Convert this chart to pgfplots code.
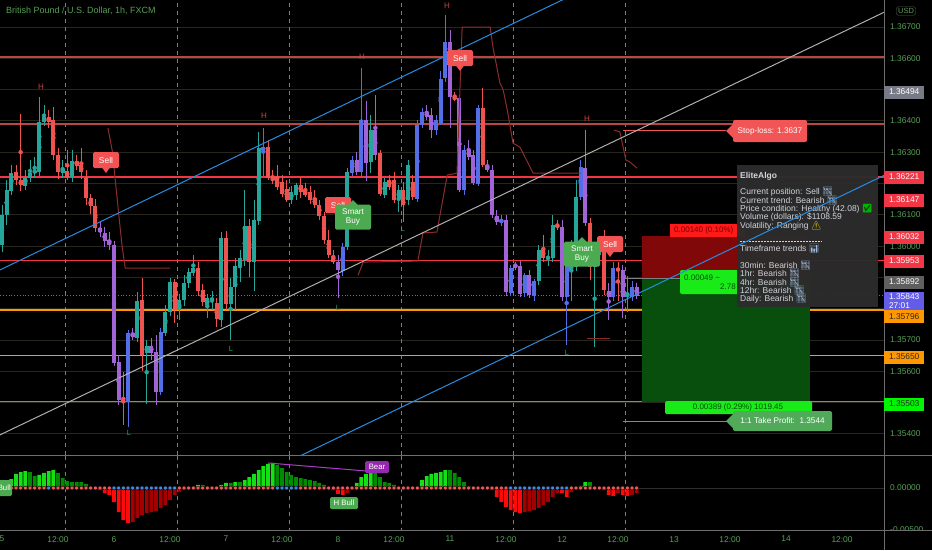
\documentclass[border=0pt]{standalone}
\usepackage{pgfplots}
\pgfplotsset{compat=1.18}
\usepackage{pgfplotstable}
\usepackage{fontspec}
\setmainfont{Liberation Sans}
\newfontfamily\emoji{Noto Emoji}
\newcommand\fsz[1]{\fontsize{#1}{#1}\selectfont}
\definecolor{tg}{RGB}{86,160,86}
\definecolor{cteal}{RGB}{38,166,154}
\definecolor{cred}{RGB}{239,83,80}
\definecolor{cblue}{RGB}{84,110,232}
\definecolor{cpurp}{RGB}{160,100,215}
\definecolor{gridc}{RGB}{40,38,28}
\definecolor{lvdark}{RGB}{185,70,70}
\definecolor{lvred}{RGB}{242,54,69}
\definecolor{lvor}{RGB}{255,152,0}
\definecolor{lvgr}{RGB}{76,175,80}
\definecolor{chblue}{RGB}{41,140,225}
\definecolor{chgray}{RGB}{175,175,175}
\definecolor{trail}{RGB}{140,45,45}
\definecolor{hgb}{RGB}{20,225,20}
\definecolor{hgd}{RGB}{0,140,0}
\definecolor{hrb}{RGB}{255,10,10}
\definecolor{hrd}{RGB}{165,0,0}
\definecolor{dotr}{RGB}{240,90,90}
\definecolor{dotb}{RGB}{60,140,230}
\definecolor{sellc}{RGB}{242,82,82}
\definecolor{buyc}{RGB}{76,170,80}
\definecolor{hlab}{RGB}{200,70,70}
\definecolor{llab}{RGB}{40,160,100}
\definecolor{panel}{RGB}{44,44,44}
\definecolor{ptxt}{RGB}{209,212,220}
\definecolor{pgray}{RGB}{120,123,134}
\definecolor{pgray2}{RGB}{95,95,95}
\definecolor{pviol}{RGB}{98,92,232}
\definecolor{pgreen}{RGB}{0,245,0}
\definecolor{tpc}{RGB}{80,170,90}
\definecolor{slc}{RGB}{242,85,85}
\definecolor{zred}{RGB}{128,8,8}
\definecolor{zgreen}{RGB}{8,78,12}
\definecolor{lred}{RGB}{255,25,25}
\definecolor{lgreen}{RGB}{25,235,25}
\definecolor{sepc}{RGB}{110,110,110}
\definecolor{sessc}{RGB}{125,125,125}
\definecolor{bearc}{RGB}{150,40,175}
\definecolor{bearl}{RGB}{170,60,200}
\definecolor{zeroc}{RGB}{45,45,45}
\definecolor{curc}{RGB}{110,110,160}
\definecolor{emob}{RGB}{160,190,225}

\pgfplotstableread{
h o hi lo cl k
0 1.36003 1.36131 1.35981 1.36099 0
1 1.36099 1.36211 1.36067 1.36179 0
2 1.36179 1.36259 1.36163 1.36236 0
3 1.36236 1.36259 1.36195 1.36211 1
4 1.36211 1.36425 1.36179 1.36195 1
5 1.36195 1.36243 1.36179 1.36220 0
6 1.36220 1.36275 1.36205 1.36236 0
7 1.36236 1.36284 1.36217 1.36243 0
8 1.36236 1.36476 1.36224 1.36396 0
9 1.36396 1.36451 1.36383 1.36412 0
10 1.36412 1.36435 1.36377 1.36396 1
11 1.36403 1.36444 1.36275 1.36291 1
12 1.36291 1.36313 1.36217 1.36236 1
13 1.36236 1.36275 1.36217 1.36246 0
14 1.36243 1.36307 1.36211 1.36220 1
15 1.36220 1.36307 1.36205 1.36272 0
16 1.36272 1.36291 1.36243 1.36259 1
17 1.36259 1.36313 1.36217 1.36236 1
18 1.36217 1.36243 1.36131 1.36153 1
19 1.36153 1.36169 1.36105 1.36128 1
20 1.36128 1.36153 1.36045 1.36058 1
21 1.36058 1.36077 1.36032 1.36045 3
22 1.36045 1.36064 1.36000 1.36019 3
23 1.36019 1.36045 1.35987 1.36003 3
24 1.36003 1.36019 1.35620 1.35629 3
25 1.35629 1.35652 1.35492 1.35508 3
26 1.35508 1.35597 1.35428 1.35502 1
27 1.35502 1.35732 1.35422 1.35725 2
28 1.35722 1.35738 1.35700 1.35709 3
29 1.35709 1.35853 1.35693 1.35827 0
30 1.35827 1.35901 1.35604 1.35652 1
31 1.35661 1.35700 1.35495 1.35681 0
32 1.35681 1.35706 1.35636 1.35661 3
33 1.35661 1.35716 1.35492 1.35534 3
34 1.35534 1.35738 1.35524 1.35725 2
35 1.35725 1.35812 1.35712 1.35789 0
36 1.35789 1.35898 1.35776 1.35885 0
37 1.35885 1.35898 1.35757 1.35796 1
38 1.35796 1.35847 1.35764 1.35827 0
39 1.35827 1.35907 1.35808 1.35882 0
40 1.35882 1.35930 1.35866 1.35917 0
41 1.35917 1.35971 1.35904 1.35930 0
42 1.35930 1.35949 1.35843 1.35859 1
43 1.35859 1.35879 1.35808 1.35821 1
44 1.35812 1.35847 1.35770 1.35834 0
45 1.35827 1.35859 1.35796 1.35837 0
46 1.35821 1.35834 1.35744 1.35770 1
47 1.35764 1.36045 1.35744 1.36026 0
48 1.36026 1.36051 1.35796 1.35815 1
49 1.35815 1.35898 1.35700 1.35869 0
50 1.35869 1.35962 1.35796 1.35936 0
51 1.35936 1.35987 1.35885 1.35962 0
52 1.35955 1.36179 1.35936 1.36064 0
53 1.36064 1.36089 1.35904 1.35949 1
54 1.35949 1.36147 1.35859 1.36083 0
55 1.36083 1.36364 1.36067 1.36316 0
56 1.36307 1.36380 1.36227 1.36316 2
57 1.36316 1.36339 1.36211 1.36217 1
58 1.36217 1.36243 1.36198 1.36211 1
59 1.36217 1.36259 1.36179 1.36189 1
60 1.36205 1.36227 1.36157 1.36166 1
61 1.36185 1.36211 1.36141 1.36150 1
62 1.36147 1.36192 1.36134 1.36173 0
63 1.36163 1.36201 1.36147 1.36195 0
64 1.36195 1.36217 1.36153 1.36173 1
65 1.36179 1.36201 1.36157 1.36163 1
66 1.36173 1.36192 1.36137 1.36147 1
67 1.36153 1.36179 1.36121 1.36131 1
68 1.36131 1.36147 1.36083 1.36096 1
69 1.36096 1.36109 1.36006 1.36019 1
70 1.36019 1.36051 1.35962 1.35971 1
71 1.35971 1.35987 1.35943 1.35952 1
72 1.35949 1.35971 1.35834 1.35923 3
73 1.35923 1.36010 1.35907 1.35997 2
74 1.35997 1.36249 1.35987 1.36236 0
75 1.36233 1.36291 1.36224 1.36275 2
76 1.36275 1.36300 1.36227 1.36236 3
77 1.36236 1.36572 1.36227 1.36403 2
78 1.36403 1.36466 1.36211 1.36268 3
79 1.36268 1.36419 1.36233 1.36371 0
80 1.36371 1.36482 1.36275 1.36291 3
81 1.36297 1.36307 1.36160 1.36169 1
82 1.36163 1.36217 1.36153 1.36205 0
83 1.36211 1.36227 1.36179 1.36189 1
84 1.36211 1.36236 1.36137 1.36147 1
85 1.36153 1.36195 1.36109 1.36179 0
86 1.36179 1.36205 1.36077 1.36131 1
87 1.36147 1.36275 1.36131 1.36259 0
88 1.36205 1.36227 1.36147 1.36157 1
89 1.36153 1.36403 1.36141 1.36387 2
90 1.36387 1.36441 1.36377 1.36428 2
91 1.36428 1.36451 1.36403 1.36412 3
92 1.36419 1.36441 1.36345 1.36371 3
93 1.36371 1.36419 1.36355 1.36403 2
94 1.36396 1.36562 1.36387 1.36537 2
95 1.36537 1.36738 1.36524 1.36652 2
96 1.36652 1.36690 1.36377 1.36476 3
97 1.36476 1.36492 1.36466 1.36473 1
98 1.36473 1.36482 1.36173 1.36179 3
99 1.36179 1.36323 1.36163 1.36307 2
100 1.36307 1.36339 1.36275 1.36284 3
101 1.36291 1.36307 1.36195 1.36201 3
102 1.36201 1.36451 1.36192 1.36441 2
103 1.36441 1.36505 1.36252 1.36259 1
104 1.36259 1.36275 1.36236 1.36243 3
105 1.36243 1.36259 1.36089 1.36099 3
106 1.36096 1.36115 1.36067 1.36077 3
107 1.36077 1.36099 1.36064 1.36083 2
108 1.36083 1.36099 1.35843 1.35853 3
109 1.35853 1.35939 1.35840 1.35930 2
110 1.35939 1.35949 1.35923 1.35936 3
111 1.35939 1.35955 1.35840 1.35850 3
112 1.35850 1.35914 1.35840 1.35907 2
113 1.35907 1.35923 1.35834 1.35843 3
114 1.35843 1.35898 1.35827 1.35891 2
115 1.35891 1.36003 1.35875 1.35990 0
116 1.35990 1.36035 1.35949 1.35962 1
117 1.35962 1.35987 1.35939 1.35965 0
118 1.35962 1.36099 1.35949 1.36067 0
119 1.36070 1.36083 1.36051 1.36061 1
120 1.36061 1.36083 1.35827 1.35837 3
121 1.35837 1.35955 1.35684 1.35939 2
122 1.35925 1.36019 1.35827 1.35939 0
123 1.35933 1.36211 1.35923 1.36157 0
124 1.36157 1.36275 1.36147 1.36252 2
125 1.36252 1.36371 1.36064 1.36074 3
126 1.36074 1.36089 1.35891 1.35933 1
127 1.35933 1.35987 1.35680 1.35971 0
128 1.35971 1.36032 1.35949 1.36019 0
129 1.36029 1.36051 1.35843 1.35859 1
130 1.35859 1.35885 1.35764 1.35837 3
131 1.35837 1.35949 1.35827 1.35930 2
132 1.35930 1.35949 1.35827 1.35923 1
133 1.35923 1.35939 1.35770 1.35837 3
134 1.35837 1.35904 1.35789 1.35850 0
135 1.35837 1.35891 1.35827 1.35869 2
136 1.35869 1.35885 1.35834 1.35843 3
}\candles

\pgfplotstableread{
h v c d
0 0.00024 0 0
1 0.00060 0 0
2 0.00107 0 0
3 0.00167 0 0
4 0.00190 0 0
5 0.00202 0 0
6 0.00190 1 0
7 0.00143 1 0
8 0.00155 0 0
9 0.00179 0 0
10 0.00202 0 1
11 0.00214 0 0
12 0.00179 1 0
13 0.00119 1 0
14 0.00083 1 0
15 0.00071 1 0
16 0.00071 1 0
17 0.00071 1 0
18 0.00048 1 0
19 0.00012 1 0
20 0.00006 1 0
21 -0.00024 2 0
22 -0.00060 2 0
23 -0.00083 2 0
24 -0.00167 2 1
25 -0.00286 2 1
26 -0.00381 2 1
27 -0.00417 2 1
28 -0.00405 3 1
29 -0.00357 3 1
30 -0.00321 3 1
31 -0.00298 3 1
32 -0.00286 3 1
33 -0.00274 3 1
34 -0.00238 3 1
35 -0.00202 3 1
36 -0.00143 3 1
37 -0.00083 3 1
38 -0.00048 3 0
39 -0.00024 3 0
40 0.00006 0 0
41 0.00012 0 0
42 0.00036 0 0
43 0.00036 1 0
44 0.00012 1 0
45 0.00006 1 0
46 0.00012 0 0
47 0.00036 0 0
48 0.00060 0 0
49 0.00060 1 0
50 0.00071 0 0
51 0.00071 1 0
52 0.00095 0 0
53 0.00131 0 0
54 0.00167 0 0
55 0.00214 0 0
56 0.00262 0 0
57 0.00286 0 0
58 0.00298 0 0
59 0.00274 1 1
60 0.00238 1 1
61 0.00190 1 1
62 0.00155 1 1
63 0.00131 1 1
64 0.00119 1 0
65 0.00107 1 0
66 0.00095 1 0
67 0.00083 1 0
68 0.00060 1 0
69 0.00036 1 0
70 0.00012 1 0
71 -0.00024 2 0
72 -0.00071 2 0
73 -0.00083 2 0
74 -0.00060 3 0
75 -0.00024 3 0
76 0.00060 0 0
77 0.00131 0 0
78 0.00167 0 0
79 0.00190 0 0
80 0.00179 1 0
81 0.00131 1 0
82 0.00071 1 0
83 0.00060 1 0
84 0.00036 1 0
85 0.00012 1 0
86 0.00006 1 0
87 0.00006 1 0
88 0.00006 1 0
89 0.00012 0 0
90 0.00095 0 0
91 0.00143 0 0
92 0.00167 0 0
93 0.00179 0 0
94 0.00190 0 0
95 0.00214 0 0
96 0.00214 1 0
97 0.00179 1 0
98 0.00131 1 0
99 0.00071 1 0
100 0.00024 1 0
101 0.00012 1 0
102 0.00006 1 0
103 0.00006 1 0
104 -0.00006 2 0
105 -0.00024 2 0
106 -0.00107 2 0
107 -0.00167 2 0
108 -0.00226 2 0
109 -0.00262 2 1
110 -0.00286 2 1
111 -0.00298 2 1
112 -0.00286 3 1
113 -0.00274 3 1
114 -0.00262 3 1
115 -0.00238 3 1
116 -0.00202 3 1
117 -0.00167 3 1
118 -0.00107 3 1
119 -0.00060 3 1
120 -0.00060 2 1
121 -0.00107 2 1
122 -0.00048 3 0
123 -0.00012 3 0
124 0.00024 0 0
125 0.00071 0 0
126 0.00071 1 0
127 0.00006 1 0
128 0.00006 1 0
129 -0.00024 2 0
130 -0.00083 2 0
131 -0.00095 2 0
132 -0.00060 3 0
133 -0.00083 2 0
134 -0.00095 2 0
135 -0.00083 3 0
136 -0.00060 3 0
}\osc

\pgfplotsset{
  wick/.style={only marks, mark=none, forget plot, color=#1,
    error bars/.cd, y dir=both, y explicit, error mark=none,
    error bar style={line width=1pt, color=#1}},
  body/.style={only marks, mark=none, forget plot, color=#1,
    error bars/.cd, y dir=both, y explicit, error mark=none,
    error bar style={line width=3.8pt, color=#1}},
  sess/.style={sessc, line width=1pt, dash pattern=on 4pt off 4pt, forget plot},
  hbar/.style={ybar, bar width=3.7pt, bar shift=0pt, draw=none, fill=#1, forget plot},
}
\newcommand\wicks[2]{\addplot[restrict expr to domain={\thisrow{k}}{#2:#2}, wick=#1] table[x=h, y expr={(\thisrow{hi}+\thisrow{lo})/2}, y error expr={(\thisrow{hi}-\thisrow{lo})/2}] {\candles};}
\newcommand\bodies[2]{\addplot[restrict expr to domain={\thisrow{k}}{#2:#2}, body=#1] table[x=h, y expr={(\thisrow{o}+\thisrow{cl})/2}, y error expr={max(abs(\thisrow{o}-\thisrow{cl})/2,0.000016)}] {\candles};}
\newcommand\sell[2]{%
  \fill[sellc, rounded corners=1.5pt] (#1-13,#2-8) rectangle (#1+13,#2+8);
  \fill[sellc] (#1-4,#2+7.5) -- (#1,#2+13) -- (#1+4,#2+7.5) -- cycle;
  \node[white, font=\fsz{8.4}, inner sep=0pt] at (#1,#2) {Sell};}
\newcommand\sbuy[2]{%
  \fill[buyc, rounded corners=1.5pt] (#1-18,#2-12.5) rectangle (#1+18,#2+12.5);
  \fill[buyc] (#1-5,#2-12) -- (#1,#2-17) -- (#1+5,#2-12) -- cycle;
  \node[white, font=\fontsize{8.2}{9}\selectfont, align=center, inner sep=0pt] at (#1,#2) {Smart\\Buy};}
\newcommand\Hlab[2]{\node[hlab, font=\fsz{8}, inner sep=0pt] at (#1,#2) {H};}
\newcommand\Llab[2]{\node[llab, font=\fsz{7.5}, inner sep=0pt] at (#1,#2) {L};}
\newcommand\pbox[4]{\node[fill=#3, text=#4, font=\fsz{8.4}, anchor=west, inner sep=0pt, minimum width=40pt, minimum height=13pt] at (884,#1) {#2};}
\newcommand\ptx[2]{\node[anchor=west, text=ptxt, font=\fsz{8.5}, inner sep=0pt] at (740,#1) {#2};}
\newcommand\emo[2]{{\emoji\color{#1}#2}}

\begin{document}
\begin{tikzpicture}
\fill[black] (0pt,-550pt) rectangle (932pt,0pt);
\useasboundingbox (0pt,-550pt) rectangle (932pt,0pt);

% ---------------- main price pane
\begin{axis}[
  at={(0pt,-455pt)}, anchor=south west, scale only axis,
  width=884pt, height=455pt,
  xmin=-0.4286, xmax=189, ymin=1.353326, ymax=1.367863,
  axis line style={draw=none}, major tick length=0pt,
  xtick=\empty, scaled y ticks=false,
  ytick={1.354,1.355,1.356,1.357,1.358,1.359,1.360,1.361,1.362,1.363,1.364,1.365,1.366,1.367},
  yticklabels={1.35400,{},1.35600,1.35700,{},{},1.36000,1.36100,{},1.36300,1.36400,{},1.36600,1.36700},
  yticklabel pos=right,
  yticklabel style={font=\fsz{8.4}, text=tg, anchor=west, inner sep=0pt, xshift=6pt},
  ymajorgrids, major grid style={gridc, line width=1pt},
]
\addplot[sess] coordinates {(13.7,1.35) (13.7,1.37)};
\addplot[sess] coordinates {(37.7,1.35) (37.7,1.37)};
\addplot[sess] coordinates {(61.7,1.35) (61.7,1.37)};
\addplot[sess] coordinates {(85.7,1.35) (85.7,1.37)};
\addplot[sess] coordinates {(109.7,1.35) (109.7,1.37)};
\addplot[sess] coordinates {(133.7,1.35) (133.7,1.37)};
% levels
\addplot[lvdark, line width=1.8pt, forget plot] coordinates {(-1,1.36604) (190,1.36604)};
\addplot[lvdark, line width=1.8pt, forget plot] coordinates {(-1,1.36390) (190,1.36390)};
\addplot[lvred, line width=1.2pt, forget plot] coordinates {(-1,1.36221) (190,1.36221)};
\addplot[lvred, line width=1.2pt, forget plot] coordinates {(-1,1.35953) (190,1.35953)};
\addplot[lvor, line width=1.6pt, forget plot] coordinates {(-1,1.35796) (190,1.35796)};
\addplot[lvor, line width=1.6pt, forget plot] coordinates {(-1,1.35650) (190,1.35650)};
\addplot[lvgr, line width=1.2pt, forget plot] coordinates {(-1,1.35503) (190,1.35503)};
\addplot[curc, dotted, line width=0.8pt, forget plot] coordinates {(-1,1.35843) (190,1.35843)};
% position zones
\addplot[fill=zred, draw=none, forget plot] coordinates {(137.1,1.35892) (173.1,1.35892) (173.1,1.36032) (137.1,1.36032)} -- cycle;
\addplot[fill=zgreen, draw=none, forget plot] coordinates {(137.1,1.35503) (173.1,1.35503) (173.1,1.35892) (137.1,1.35892)} -- cycle;
\addplot[lvgr, line width=1pt, forget plot] coordinates {(133.1,1.35440) (157,1.35440)};
\addplot[slc, line width=1pt, forget plot] coordinates {(133.1,1.36370) (155.1,1.36370)};
\addplot[gray, line width=0.8pt, forget plot] coordinates {(133.1,1.35897) (145.3,1.35897)};
% candles
\wicks{cteal}{0}\wicks{cred}{1}\wicks{cblue}{2}\wicks{cpurp}{3}
\bodies{cteal}{0}\bodies{cred}{1}\bodies{cblue}{2}\bodies{cpurp}{3}
% trailing stop
\addplot[trail, line width=1pt, forget plot] coordinates {(22.7,1.36377) (23.6,1.36307) (24.6,1.36163) (25.7,1.36003) (26.4,1.35930) (36.0,1.35930)};
\addplot[trail, line width=1pt, forget plot] coordinates {(76.3,1.35907) (77.4,1.35949) (89.1,1.35952) (90.2,1.36042) (93.2,1.36045) (95.4,1.36227) (97.5,1.36233) (98.6,1.36700) (104.6,1.36700) (105.2,1.36636) (106.7,1.36521) (107.4,1.36499) (108.4,1.36425) (109.5,1.36329) (111.0,1.36316) (113.8,1.36233) (124.0,1.36233)};
\addplot[trail, line width=1pt, forget plot] coordinates {(131.1,1.36371) (132.4,1.36365) (133.7,1.36275) (134.6,1.36268) (136.1,1.36249)};
\addplot[trail, line width=1pt, forget plot] coordinates {(125.4,1.35706) (130.3,1.35706)};
% channel lines
\addplot[chgray, line width=1pt, forget plot] coordinates {(-0.43,1.35397) (189,1.36747)};
\addplot[chblue, line width=1pt, forget plot] coordinates {(-0.43,1.35924) (128.1,1.36844)};
\end{axis}

% ---------------- oscillator pane
\begin{axis}[
  at={(0pt,-530pt)}, anchor=south west, scale only axis,
  width=884pt, height=75pt,
  xmin=-0.4286, xmax=189, ymin=-0.005, ymax=0.003929,
  axis line style={draw=none}, major tick length=0pt,
  scaled y ticks=false, scaled x ticks=false,
  xtick={0,12,24,36,48,60,72,84,96,108,120,132,144,156,168,180},
  xticklabels={5,12:00,6,12:00,7,12:00,8,12:00,11,12:00,12,12:00,13,12:00,14,12:00},
  xticklabel style={font=\fsz{8.4}, text=tg, inner sep=0pt, yshift=-6pt, anchor=north},
  ytick={-0.005,0}, yticklabels={-0.00500,0.00000},
  yticklabel pos=right,
  yticklabel style={font=\fsz{8.4}, text=tg, anchor=west, inner sep=0pt, xshift=6pt},
]
\addplot[sess] coordinates {(13.7,-0.01) (13.7,0.01)};
\addplot[sess] coordinates {(37.7,-0.01) (37.7,0.01)};
\addplot[sess] coordinates {(61.7,-0.01) (61.7,0.01)};
\addplot[sess] coordinates {(85.7,-0.01) (85.7,0.01)};
\addplot[sess] coordinates {(109.7,-0.01) (109.7,0.01)};
\addplot[sess] coordinates {(133.7,-0.01) (133.7,0.01)};
\addplot[zeroc, line width=1pt, forget plot] coordinates {(-1,0) (190,0)};
\addplot[restrict expr to domain={\thisrow{c}}{0:0}, hbar=hgb] table[x=h, y=v] {\osc};
\addplot[restrict expr to domain={\thisrow{c}}{1:1}, hbar=hgd] table[x=h, y=v] {\osc};
\addplot[restrict expr to domain={\thisrow{c}}{2:2}, hbar=hrb] table[x=h, y=v] {\osc};
\addplot[restrict expr to domain={\thisrow{c}}{3:3}, hbar=hrd] table[x=h, y=v] {\osc};
\addplot[only marks, mark=*, mark size=2pt, mark options={draw=none, fill=dotr}, forget plot] table[x=h, y expr=0] {\osc};
\addplot[restrict expr to domain={\thisrow{d}}{1:1}, only marks, mark=*, mark size=2pt, mark options={draw=none, fill=dotb}, forget plot] table[x=h, y expr=0] {\osc};
\addplot[bearl, line width=1pt, forget plot] coordinates {(57.0,0.00298) (78.2,0.00202)};
\end{axis}

% ---------------- annotations (pixel coordinates, y downwards)
\begin{scope}[x=1pt, y=-1pt]
\Hlab{41}{87}\Hlab{264}{116}\Hlab{362}{57}\Hlab{447}{6}\Hlab{587}{119}
\Llab{129}{433}\Llab{231}{349}\Llab{338}{308}\Llab{403}{229}\Llab{567}{353}
\sell{106}{160}\sell{338}{205}\sell{460}{58}\sell{610}{244}
\sbuy{353}{217}\sbuy{582}{254}
% position labels
\fill[lred] (670,224) rectangle (745,237);
\node[anchor=west, text={rgb,255:red,120;green,0;blue,0}, font=\fsz{8}, inner sep=0pt] at (674,230.5) {0.00140 (0.10\%)};
\fill[lgreen, rounded corners=2pt] (680,270) rectangle (752,294);
\node[anchor=west, text={rgb,255:red,0;green,80;blue,0}, font=\fsz{8}, inner sep=0pt] at (684,277.5) {0.00049 \textasciitilde};
\node[anchor=east, text={rgb,255:red,0;green,80;blue,0}, font=\fsz{8}, inner sep=0pt] at (736,287) {2.78};
\fill[lgreen, rounded corners=1.5pt] (665,401) rectangle (812,414);
\node[text={rgb,255:red,0;green,80;blue,0}, font=\fsz{8}, inner sep=0pt] at (738,407.5) {0.00389 (0.29\%) 1019.45};
\fill[tpc, rounded corners=2pt] (733,411) rectangle (832,431);
\fill[tpc] (726,421) -- (734,413) -- (734,429) -- cycle;
\node[white, font=\fsz{8.2}, inner sep=0pt] at (782.5,421) {1:1 Take Profit:\ \ 1.3544};
\fill[slc, rounded corners=2pt] (733,120) rectangle (807,142);
\fill[slc] (726,131) -- (734,123) -- (734,139) -- cycle;
\node[white, font=\fsz{8.2}, inner sep=0pt] at (770,131) {Stop-loss: 1.3637};
% panel
\fill[panel, fill opacity=0.97] (737,165) rectangle (878,307);
\node[anchor=west, text=ptxt, font=\fsz{8.5}\bfseries, inner sep=0pt] at (740,176) {EliteAlgo};
\ptx{192}{Current position: Sell \emo{emob}{📉}}
\ptx{200.5}{Current trend: Bearish \emo{emob}{📉}}
\ptx{209}{Price condition: Healthy (42.08) \emo{green!70!black}{✅}}
\ptx{217}{Volume (dollars): \$1108.59}
\ptx{225.5}{Volatility: Ranging \emo{yellow!85!orange}{⚠}}
\draw[ptxt, dash pattern=on 2pt off 1pt, line width=0.6pt] (740,241) -- (822,241);
\ptx{249}{Timeframe trends \emo{emob}{📊}}
\ptx{266}{30min: Bearish \emo{emob}{📉}}
\ptx{274}{1hr: Bearish \emo{emob}{📉}}
\ptx{282.5}{4hr: Bearish \emo{emob}{📉}}
\ptx{290.5}{12hr: Bearish \emo{emob}{📉}}
\ptx{298.5}{Daily: Bearish \emo{emob}{📉}}
% oscillator labels
\fill[buyc, rounded corners=1.5pt] (-6,480) rectangle (12,496);
\node[anchor=east, white, font=\fsz{7.8}, inner sep=0pt] at (11,488) {Bull};
\fill[buyc, rounded corners=1.5pt] (330,497) rectangle (358,509);
\node[white, font=\fsz{7.8}, inner sep=0pt] at (344,503) {H Bull};
\fill[bearc, rounded corners=1.5pt] (365,461) rectangle (389,473);
\node[white, font=\fsz{7.8}, inner sep=0pt] at (377,467) {Bear};
\end{scope}

% ---------------- overlay: channel line drawn over the info panel
\begin{axis}[
  at={(0pt,-455pt)}, anchor=south west, scale only axis,
  width=884pt, height=455pt,
  xmin=-0.4286, xmax=189, ymin=1.353326, ymax=1.367863, hide axis,
]
\addplot[chblue, line width=1pt] coordinates {(60,1.35302) (189,1.36226)};
\end{axis}

\begin{scope}[x=1pt, y=-1pt]
\draw[sepc, line width=1pt] (0,455) -- (932,455);
\fill[black] (884,531) rectangle (932,550);
\draw[sepc, line width=1pt] (0,530) -- (932,530);
\draw[sepc, line width=1pt] (884,0) -- (884,550);
\node[anchor=west, text=tg, font=\fsz{9}, inner sep=0pt] at (6,11) {British Pound / U.S. Dollar, 1h, FXCM};
\node[draw={rgb,255:red,90;green,90;blue,90}, rounded corners=2pt, text=tg, font=\fsz{7.5}, inner sep=1.6pt] at (906,11) {USD};
\pbox{92}{1.36494}{pgray}{white}
\pbox{177}{1.36221}{lvred}{white}
\pbox{200}{1.36147}{lvred}{white}
\pbox{237}{1.36032}{lvred}{white}
\pbox{261}{1.35953}{lvred}{white}
\pbox{282}{1.35892}{pgray2}{white}
\node[fill=pviol, text=white, font=\fontsize{8.4}{9.8}\selectfont, anchor=west, align=left, inner xsep=4.5pt, inner ysep=1.5pt, minimum width=40pt] at (884,301) {1.35843\\27:01};
\pbox{316.5}{1.35796}{lvor}{black!85}
\pbox{357}{1.35650}{lvor}{black!85}
\pbox{404}{1.35503}{pgreen}{black!85}
\end{scope}
\end{tikzpicture}
\end{document}
